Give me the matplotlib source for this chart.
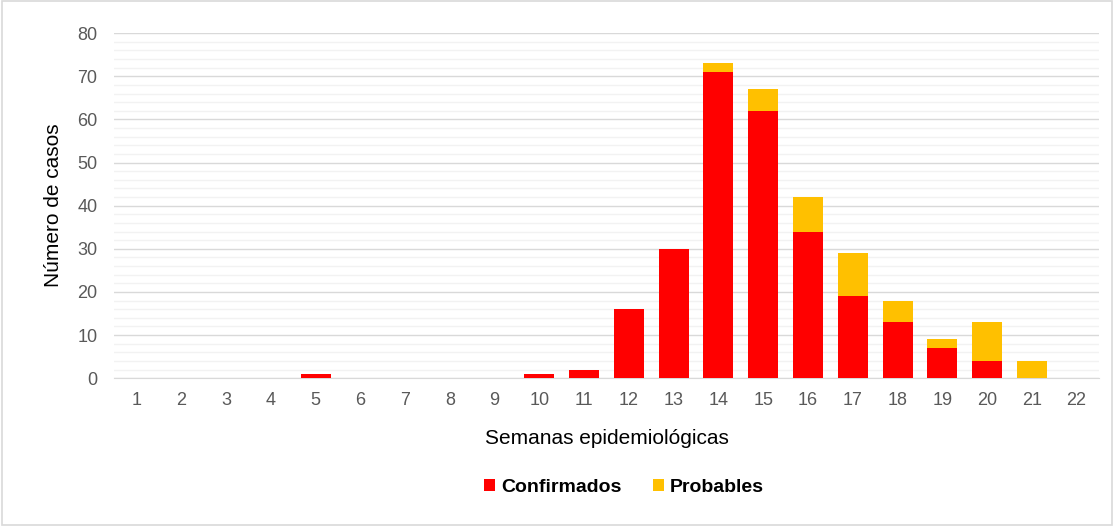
import matplotlib
matplotlib.use("Agg")
import matplotlib.pyplot as plt
from matplotlib.patches import Rectangle

plt.rcParams['font.family'] = ['Liberation Sans', 'DejaVu Sans']

semanas = list(range(1, 23))
confirmados = [0, 0, 0, 0, 1, 0, 0, 0, 0, 1, 2, 16, 30, 71, 62, 34, 19, 13, 7, 4, 0, 0]
probables = [0, 0, 0, 0, 0, 0, 0, 0, 0, 0, 0, 0, 0, 2, 5, 8, 10, 5, 2, 9, 4, 0]

rojo = "#ff0000"
amarillo = "#ffc000"

fig = plt.figure(figsize=(11.14, 5.26), dpi=100)
fig.patches.append(Rectangle((0.002, 0.002), 0.996, 0.996, transform=fig.transFigure,
                             fill=False, edgecolor="#d9d9d9", linewidth=1.2))
ax = fig.add_axes([0.1025, 0.281, 0.884, 0.656])

ax.bar(semanas, confirmados, width=0.67, color=rojo, label="Confirmados", zorder=3)
ax.bar(semanas, probables, width=0.67, bottom=confirmados, color=amarillo,
       label="Probables", zorder=3)

ax.set_xlim(0.5, 22.5)
ax.set_ylim(0, 80)
ax.set_yticks(range(0, 81, 10))
ax.set_yticks(range(0, 81, 2), minor=True)
ax.set_xticks(semanas)
ax.grid(axis="y", which="major", color="#d9d9d9", linewidth=1.0, zorder=0)
ax.grid(axis="y", which="minor", color="#f2f2f2", linewidth=1.0, zorder=0)
ax.tick_params(axis="both", which="both", length=0, labelsize=13, colors="#595959")
ax.tick_params(axis="y", pad=12)
ax.tick_params(axis="x", pad=10)

for side in ["top", "right", "left"]:
    ax.spines[side].set_visible(False)
ax.spines["bottom"].set_color("#d9d9d9")

ax.set_xlabel("Semanas epidemiológicas", fontsize=15, color="black", labelpad=14)
ax.set_ylabel("Número de casos", fontsize=15, color="black", labelpad=10)

leg = fig.legend(loc="center", bbox_to_anchor=(0.56, 0.073), ncol=2, frameon=False,
                 handlelength=0.6, handleheight=0.6, handletextpad=0.3, columnspacing=1.6,
                 prop={"size": 14, "weight": "bold"})

fig.savefig("out.png", dpi=100)
